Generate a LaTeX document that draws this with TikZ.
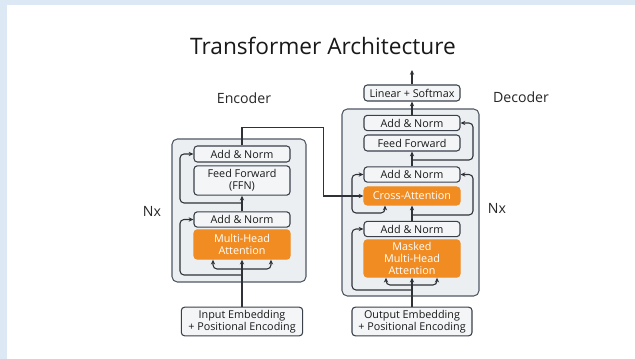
\documentclass[tikz,border=0pt]{standalone}
\usepackage{fontspec}
\setmainfont{Open Sans}
\usetikzlibrary{arrows.meta}

\definecolor{slideblue}{HTML}{DCE9F5}
\definecolor{boxfill}{HTML}{F3F5F7}
\definecolor{boxline}{HTML}{3A414B}
\definecolor{stackfill}{HTML}{ECEFF2}
\definecolor{stackline}{HTML}{505864}
\definecolor{attnorange}{HTML}{F08C22}
\definecolor{wire}{HTML}{2E3238}

\tikzset{
    block/.style={draw=boxline, fill=boxfill, rounded corners=2.5pt, line width=0.8pt,
        minimum width=72pt, inner sep=0pt, align=center, text=black!90,
        font=\fontsize{8.1}{8.8}\selectfont},
    attn/.style={block, draw=attnorange, fill=attnorange, text=white},
    stack/.style={draw=stackline, fill=stackfill, rounded corners=4pt, line width=0.8pt, inner sep=0pt},
    wirestyle/.style={draw=wire, line width=0.8pt},
    label/.style={font=\fontsize{10.6}{12}\selectfont, text=black!85}
}

\begin{document}
\begin{tikzpicture}[x=0.75pt, y=-0.75pt, >={Stealth[length=3.6pt,width=3.2pt]}]
    % Nền
    \useasboundingbox (0,0) rectangle (635,359);
    \fill[slideblue] (0,0) rectangle (635,359);
    \fill[white] (7,5) rectangle (635,359);

    % Tiêu đề
    \node[font=\fontsize{17}{20}\selectfont, text=black!90] (title) at (323,46) {Transformer Architecture};
    \node[label] (encLabel) at (244,98) {Encoder};
    \node[label] (decLabel) at (521,97) {Decoder};
    \node[label] (encN) at (152,211) {Nx};
    \node[label] (decN) at (497,208) {Nx};

    % Khối encoder
    \node[stack, minimum width=100.5pt, minimum height=107.25pt] (encBox) at (239,210.5) {};
    \node[block, minimum height=12pt] (encAN2) at (242,154) {Add \& Norm};
    \node[block, minimum height=22pt] (encFF) at (242,180.5) {Feed Forward\\(FFN)};
    \node[block, minimum height=11.5pt] (encAN1) at (242,219.5) {Add \& Norm};
    \node[attn, minimum height=22pt] (encMHA) at (242,244.5) {Multi-Head\\Attention};
    \node[block, minimum width=91pt, minimum height=21.5pt] (inEmb) at (242,321.5) {Input Embedding\\+ Positional Encoding};

    % Khối decoder
    \node[stack, minimum width=102.75pt, minimum height=140.25pt] (decBox) at (410.5,202.5) {};
    \node[block, minimum height=12pt] (linSM) at (412,93) {Linear + Softmax};
    \node[block, minimum height=11.5pt] (decAN3) at (412,123) {Add \& Norm};
    \node[block, minimum height=12pt] (decFF) at (412,143) {Feed Forward};
    \node[block, minimum height=11.5pt] (decAN2) at (412,174.5) {Add \& Norm};
    \node[attn, minimum height=13.5pt] (cross) at (412,196) {Cross-Attention};
    \node[block, minimum height=11.5pt] (decAN1) at (412,229) {Add \& Norm};
    \node[attn, minimum height=28pt] (mmha) at (412,258.5) {Masked\\Multi-Head\\Attention};
    \node[block, minimum width=90pt, minimum height=21.5pt] (outEmb) at (412,321.5) {Output Embedding\\+ Positional Encoding};

    % Đường nối encoder
    \coordinate (encSplit) at (242,269);
    \coordinate (encR1) at (242,275);
    \coordinate (encR2) at (242,203);
    \draw[wirestyle, ->] (inEmb.north) -- (encMHA.south);
    \draw[wirestyle, ->, rounded corners=3pt] (encSplit) -| ([xshift=-21.75pt]encMHA.south);
    \draw[wirestyle, ->, rounded corners=3pt] (encSplit) -| ([xshift=21.75pt]encMHA.south);
    \draw[wirestyle, ->, rounded corners=3pt] (encR1) -- (180,275) |- (encAN1.west);
    \draw[wirestyle, ->] (encAN1.north) -- (encFF.south);
    \draw[wirestyle, ->, rounded corners=3pt] (encR2) -- (180,203) |- (encAN2.west);
    \draw[wirestyle, ->] (encAN2.north) -- (242,127.5) -- (323.5,127.5) |- (cross.west);

    % Đường nối decoder
    \coordinate (decSplit) at (412,285);
    \coordinate (decR1) at (412,290);
    \coordinate (decR2) at (412,215);
    \coordinate (decR3) at (412,160);
    \coordinate (decOut) at (412,70);
    \draw[wirestyle, ->] (outEmb.north) -- (mmha.south);
    \draw[wirestyle, ->, rounded corners=3pt] (decSplit) -| ([xshift=-19.5pt]mmha.south);
    \draw[wirestyle, ->, rounded corners=3pt] (decSplit) -| ([xshift=18.75pt]mmha.south);
    \draw[wirestyle, ->, rounded corners=3pt] (decR1) -- (352,290) |- (decAN1.west);
    \draw[wirestyle, ->] (decAN1.north) -- (cross.south);
    \draw[wirestyle, {Stealth[length=3.6pt,width=3.2pt]}-{Stealth[length=3.6pt,width=3.2pt]}, rounded corners=3pt]
        ([xshift=-20.25pt]cross.south) |- (352,213) |- (decAN2.west);
    \draw[wirestyle, ->, rounded corners=3pt] (decR2) -- (473,215) |- (decAN2.east);
    \draw[wirestyle, ->] (decAN2.north) -- (decFF.south);
    \draw[wirestyle, ->, rounded corners=3pt] (decR3) -- (473,160) |- (decAN3.east);
    \draw[wirestyle, ->] (decAN3.north) -- (linSM.south);
    \draw[wirestyle, ->] (linSM.north) -- (decOut);

\end{tikzpicture}
\end{document}
